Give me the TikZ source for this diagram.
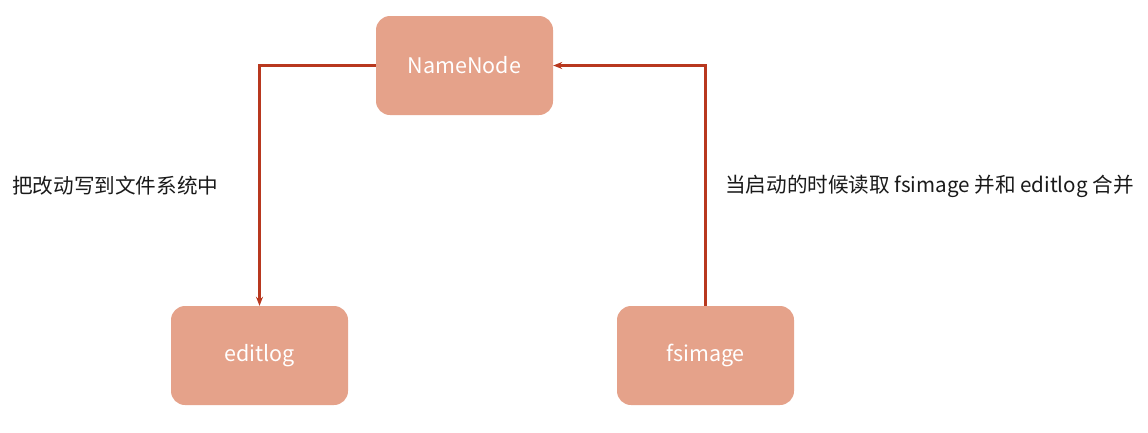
\documentclass[tikz,border=0pt]{standalone}
\usepackage{fontspec}
\setmainfont{Noto Sans CJK SC}
\usetikzlibrary{arrows.meta}
\definecolor{boxfill}{HTML}{E5A28A}
\definecolor{linecol}{HTML}{B8381F}
\definecolor{txtcol}{HTML}{1A1A1A}
\tikzset{
  box/.style={draw=none, fill=boxfill, rounded corners=14pt, minimum width=177pt, minimum height=99pt, text=white, font=\fontsize{21.5}{24}\selectfont, inner sep=0pt},
  conn/.style={draw=linecol, line width=2.2pt, -{Stealth[length=9pt,width=7pt]}},
  lbl/.style={text=txtcol, font=\fontsize{20.6}{24}\selectfont, inner sep=0pt},
}
\begin{document}
\begin{tikzpicture}[x=1pt,y=-1pt]
\useasboundingbox (0,0) rectangle (1148,432);
\node[box] (nn) at (464.5,65.5) {NameNode};
\node[box] (el) at (259.5,355.5) {editlog};
\node[box] (fs) at (705.5,355.5) {fsimage};
\draw[conn] (nn.west) -| (el.north);
\draw[conn] (fs.north) |- (nn.east);
\node[lbl, anchor=west] (l1) at (12,186) {把改动写到文件系统中};
\node[lbl, anchor=west] (l2) at (725,186) {当启动的时候读取 fsimage 并和 editlog 合并};
\end{tikzpicture}
\end{document}
